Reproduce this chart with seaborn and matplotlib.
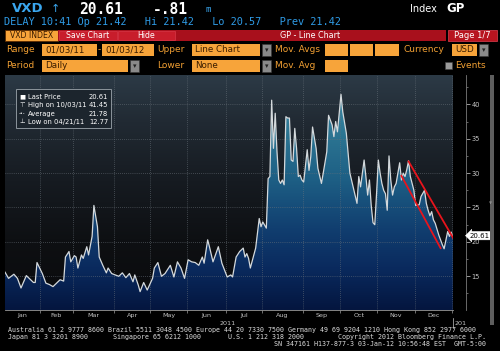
import numpy as np
import pandas as pd
import matplotlib
matplotlib.use("Agg")
import matplotlib.pyplot as plt
import matplotlib.transforms as mtransforms
import seaborn as sns
from matplotlib.colors import LinearSegmentedColormap
from matplotlib.patches import Polygon, Rectangle

# VXD index, daily (trading days only)
dates = [
    "2011-01-03", "2011-01-05", "2011-01-10", "2011-01-12", "2011-01-14", "2011-01-20", "2011-01-26",
    "2011-01-27", "2011-01-28", "2011-02-02", "2011-02-04", "2011-02-08", "2011-02-10", "2011-02-14",
    "2011-02-16", "2011-02-18", "2011-02-22", "2011-02-24", "2011-02-25", "2011-03-01", "2011-03-02",
    "2011-03-03", "2011-03-07", "2011-03-08", "2011-03-10", "2011-03-11", "2011-03-15", "2011-03-16",
    "2011-03-18", "2011-03-21", "2011-03-23", "2011-03-25", "2011-03-28", "2011-03-30", "2011-04-01",
    "2011-04-05", "2011-04-07", "2011-04-11", "2011-04-13", "2011-04-15", "2011-04-18", "2011-04-20",
    "2011-04-21", "2011-04-26", "2011-04-28", "2011-05-03", "2011-05-04", "2011-05-06", "2011-05-10",
    "2011-05-12", "2011-05-17", "2011-05-19", "2011-05-23", "2011-05-25", "2011-05-27", "2011-06-01",
    "2011-06-03", "2011-06-07", "2011-06-09", "2011-06-13", "2011-06-14", "2011-06-16", "2011-06-17",
    "2011-06-21", "2011-06-24", "2011-06-28", "2011-07-01", "2011-07-06", "2011-07-07", "2011-07-11",
    "2011-07-13", "2011-07-15", "2011-07-18", "2011-07-19", "2011-07-20", "2011-07-21", "2011-07-26",
    "2011-07-28", "2011-07-29", "2011-08-01", "2011-08-03", "2011-08-04", "2011-08-05", "2011-08-08",
    "2011-08-09", "2011-08-10", "2011-08-11", "2011-08-12", "2011-08-15", "2011-08-16", "2011-08-17",
    "2011-08-18", "2011-08-19", "2011-08-22", "2011-08-23", "2011-08-24", "2011-08-25", "2011-08-26",
    "2011-08-29", "2011-08-30", "2011-08-31", "2011-09-01", "2011-09-06", "2011-09-07", "2011-09-08",
    "2011-09-09", "2011-09-13", "2011-09-14", "2011-09-16", "2011-09-19", "2011-09-21", "2011-09-22",
    "2011-09-26", "2011-09-27", "2011-09-28", "2011-09-29", "2011-10-03", "2011-10-04", "2011-10-06",
    "2011-10-10", "2011-10-12", "2011-10-14", "2011-10-17", "2011-10-18", "2011-10-19", "2011-10-20",
    "2011-10-21", "2011-10-24", "2011-10-25", "2011-10-26", "2011-10-27", "2011-10-28", "2011-10-31",
    "2011-11-01", "2011-11-02", "2011-11-03", "2011-11-04", "2011-11-07", "2011-11-08", "2011-11-09",
    "2011-11-10", "2011-11-11", "2011-11-14", "2011-11-15", "2011-11-17", "2011-11-18", "2011-11-21",
    "2011-11-22", "2011-11-23", "2011-11-25", "2011-11-28", "2011-11-30", "2011-12-01", "2011-12-05",
    "2011-12-06", "2011-12-08", "2011-12-09", "2011-12-12", "2011-12-13", "2011-12-14", "2011-12-15",
    "2011-12-16", "2011-12-20", "2011-12-22", "2011-12-23", "2011-12-28", "2011-12-29", "2011-12-30",
    "2012-01-03",
]
values = [
    15.6, 14.7, 15.3, 14.7, 13.3, 15.1, 14.1,
    14.1, 17.0, 15.4, 14.0, 13.8, 13.5, 14.0,
    14.5, 14.3, 17.8, 18.6, 17.1, 18.0, 17.8,
    16.2, 18.1, 17.6, 19.3, 18.1, 20.8, 25.3,
    22.2, 17.8, 16.6, 15.5, 16.2, 15.4, 15.2,
    15.0, 15.5, 14.8, 15.4, 14.2, 15.2, 13.7,
    12.77, 14.1, 13.0, 14.7, 16.2, 17.0, 15.0,
    15.4, 16.6, 14.9, 17.1, 16.2, 14.7, 17.4,
    17.1, 17.0, 16.6, 17.8, 16.9, 20.3, 19.3,
    17.1, 19.3, 16.9, 14.9, 15.2, 14.9, 17.8,
    18.6, 19.1, 17.8, 18.3, 17.6, 16.2, 19.1,
    23.4, 22.2, 22.9, 22.0, 29.2, 29.5, 40.6,
    33.6, 38.7, 33.1, 29.0, 28.5, 29.0, 28.3,
    38.2, 38.0, 38.0, 31.9, 31.7, 36.5, 33.6,
    29.5, 29.7, 29.0, 28.7, 33.4, 30.4, 32.4,
    36.7, 33.6, 30.7, 28.5, 30.0, 33.1, 38.4,
    37.0, 35.3, 37.5, 36.0, 41.45, 38.9, 35.8,
    30.0, 27.8, 25.6, 29.5, 28.0, 30.0, 31.9,
    29.5, 26.8, 29.0, 25.3, 22.8, 22.5, 27.0,
    31.9, 30.0, 28.5, 27.5, 27.0, 24.6, 32.5,
    29.0, 26.8, 28.0, 28.5, 31.5, 29.0, 30.0,
    29.5, 30.5, 31.8, 29.5, 27.5, 25.3, 25.4,
    26.6, 27.5, 25.6, 24.6, 23.8, 24.4, 23.2,
    22.7, 21.0, 19.6, 19.0, 21.5, 20.8, 21.42,
    20.61,
]
holidays = ["2011-01-17", "2011-02-21", "2011-04-22", "2011-05-30", "2011-07-04",
            "2011-09-05", "2011-11-24", "2011-12-26", "2012-01-02"]

# hand-drawn trend channel
upper_trend_dates = ["2011-11-25", "2012-01-03"]
upper_trend_values = [31.7, 20.6]
lower_trend_dates = ["2011-11-18", "2011-12-21"]
lower_trend_values = [29.6, 19.1]

month_names = ["Jan", "Feb", "Mar", "Apr", "May", "Jun", "Jul", "Aug", "Sep", "Oct", "Nov", "Dec"]
y_ticks = [15, 20, 25, 30, 35, 40]
last_price = 20.61

legend_icons = ["■", "⊤", "-•-", "⊥"]
legend_labels = ["Last Price", "High on 10/03/11", "Average", "Low on 04/21/11"]
legend_values = ["20.61", "41.45", "21.78", "12.77"]

# sessions -> position on the axis (Bloomberg plots trading days evenly)
sessions = pd.bdate_range("2011-01-03", "2012-01-03", freq="C", holidays=holidays)
df = pd.DataFrame({"date": pd.to_datetime(dates), "value": values})
df["session"] = sessions.get_indexer(df["date"])
up = pd.DataFrame({"session": sessions.get_indexer(pd.to_datetime(upper_trend_dates)), "value": upper_trend_values})
lo = pd.DataFrame({"session": sessions.get_indexer(pd.to_datetime(lower_trend_dates)), "value": lower_trend_values})

month_start = [i for i in range(len(sessions)) if i == 0 or sessions[i].month != sessions[i - 1].month]
bounds = [i - 0.5 for i in month_start[1:]]
centers = [(a + b) / 2 for a, b in zip([0] + bounds[:-1], bounds)]

W, H = 500, 351
fig = plt.figure(figsize=(W / 100, H / 100), dpi=100, facecolor="black")

def fx(x):
    return x / W

def fy(y):
    return 1 - y / H

def rect(x0, y0, x1, y1, fc, ec="none", lw=0):
    fig.patches.append(Rectangle((fx(x0), fy(y1)), (x1 - x0) / W, (y1 - y0) / H,
                                 transform=fig.transFigure, facecolor=fc, edgecolor=ec, lw=lw))

def txt(x, y, s, **kw):
    kw.setdefault("va", "center")
    fig.text(fx(x), fy(y), s, **kw)

# ---------- header ----------
blue = "#2f9be6"
orange = "#f7a43a"
otext = "#f2a033"
dark = "#3a1c00"
txt(12, 9, "VXD", color="#3aa6ee", fontsize=9.5, fontweight="bold")
txt(51, 9, "↑", color="#3aa6ee", fontsize=8)
txt(79, 9, "20.61", color="white", fontsize=10.5, fontweight="bold", family="DejaVu Sans Mono")
txt(153, 9, "-.81", color="white", fontsize=10.5, fontweight="bold", family="DejaVu Sans Mono")
txt(206, 10, "m", color="#3aa6ee", fontsize=6.5, family="DejaVu Sans Mono")
txt(410, 9, "Index", color="white", fontsize=7)
txt(446, 9, "GP", color="white", fontsize=8.5, fontweight="bold")
txt(4, 22, "DELAY 10:41 Op 21.42   Hi 21.42   Lo 20.57   Prev 21.42",
    color=blue, fontsize=7.4, family="DejaVu Sans Mono")

rect(5, 30, 58, 41, orange, ec="#5a2a00", lw=0.6)
txt(31.5, 35.5, "VXD INDEX", color=dark, fontsize=5.6, ha="center")
rect(58, 30, 446, 41, "#a8101c")
rect(59, 31, 117, 40, "#c81d2b", ec="#e04050", lw=0.4)
rect(118, 31, 175, 40, "#c81d2b", ec="#e04050", lw=0.4)
txt(88, 35.5, "Save Chart", color="white", fontsize=5.6, ha="center")
txt(146, 35.5, "Hide", color="white", fontsize=5.6, ha="center")
txt(310, 35.5, "GP - Line Chart", color="white", fontsize=5.8, ha="center")
rect(448, 30, 497, 41, "#b8141f", ec="#e04050", lw=0.5)
txt(472.5, 35.5, "Page 1/7", color="white", fontsize=6, ha="center")

def field(x0, x1, y0, y1, s=""):
    rect(x0, y0, x1, y1, orange)
    if s:
        txt(x0 + 3, (y0 + y1) / 2, s, color=dark, fontsize=6.3)

def drop(x0, y0, y1):
    rect(x0, y0, x0 + 9, y1, "#8a8a8a", ec="#3a3a3a", lw=0.4)
    txt(x0 + 4.5, (y0 + y1) / 2, "▾", color="#222222", fontsize=5, ha="center")

r4a, r4b, r5a, r5b = 44, 56, 60, 72
txt(6, 50, "Range", color=otext, fontsize=6.5)
field(42, 97, r4a, r4b, "01/03/11")
txt(98, 50, "-", color=otext, fontsize=6.5)
field(102, 154, r4a, r4b, "01/03/12")
txt(157, 50, "Upper", color=otext, fontsize=6.5)
field(192, 260, r4a, r4b, "Line Chart")
drop(262, r4a, r4b)
txt(275, 50, "Mov. Avgs", color=otext, fontsize=6.5)
field(325, 348, r4a, r4b)
field(350, 373, r4a, r4b)
field(375, 399, r4a, r4b)
txt(403, 50, "Currency", color=otext, fontsize=6.5)
field(452, 477, r4a, r4b, "USD")
drop(479, r4a, r4b)

txt(6, 66, "Period", color=otext, fontsize=6.5)
field(42, 128, r5a, r5b, "Daily")
drop(130, r5a, r5b)
txt(157, 66, "Lower", color=otext, fontsize=6.5)
field(192, 260, r5a, r5b, "None")
drop(262, r5a, r5b)
txt(275, 66, "Mov. Avg", color=otext, fontsize=6.5)
field(325, 348, r5a, r5b)
rect(445, 62, 452, 69, "#9a9a9a", ec="#444444", lw=0.4)
txt(455, 66, "Events", color=otext, fontsize=6.5)

# ---------- chart ----------
ax = fig.add_axes([fx(5), fy(310), (453 - 5) / W, (310 - 75) / H])
ylo, yhi = 10.1, 44.26
xlo, xhi = 0, 252

bg_cmap = LinearSegmentedColormap.from_list(
    "bg", [(0, "#0a0a0c"), (0.3, "#0e1013"), (0.55, "#161b21"), (0.8, "#212a33"), (1, "#2c3a46")])
fill_cmap = LinearSegmentedColormap.from_list(
    "fill", [(0, "#04163f"), (0.18, "#0a2a5e"), (0.35, "#113f70"), (0.55, "#1d5e84"),
             (0.75, "#2c7592"), (1, "#4293b0")])
grad = np.linspace(0, 1, 256).reshape(-1, 1)
ax.imshow(grad, extent=[xlo, xhi, ylo, yhi], origin="lower", aspect="auto", cmap=bg_cmap, zorder=0)
im = ax.imshow(grad, extent=[xlo, xhi, ylo, yhi], origin="lower", aspect="auto", cmap=fill_cmap, zorder=1)
xs = df["session"].to_numpy()
ys = df["value"].to_numpy()
poly = Polygon(np.column_stack([np.r_[xs[0], xs, xs[-1]], np.r_[ylo, ys, ylo]]),
               closed=True, transform=ax.transData, facecolor="none", edgecolor="none")
ax.add_patch(poly)
im.set_clip_path(poly)

sns.lineplot(data=df, x="session", y="value", ax=ax, color="#d4d9dc", lw=0.9, zorder=4)
sns.lineplot(data=up, x="session", y="value", ax=ax, color="#e8141c", lw=1.3, zorder=5)
sns.lineplot(data=lo, x="session", y="value", ax=ax, color="#e8141c", lw=1.3, zorder=5)

ax.set_xlim(xlo, xhi)
ax.set_ylim(ylo, yhi)
ax.set_xlabel("")
ax.set_ylabel("")

grid_kw = dict(color="#6a737b", lw=0.5, ls=(0, (1, 2)), zorder=3)
for b in bounds:
    ax.axvline(b, **grid_kw)
for t in y_ticks:
    ax.axhline(t, **grid_kw)

ax.set_xticks(bounds)
ax.set_xticklabels([])
ax.set_xticks(centers, minor=True)
ax.set_xticklabels(month_names, minor=True)
ax.tick_params(axis="x", which="major", direction="out", length=2.5, color="#9a9a9a", width=0.5)
ax.tick_params(axis="x", which="minor", length=0, pad=2, labelsize=4.6, labelcolor="#c4c4c4")

ax.yaxis.tick_right()
ax.set_yticks(y_ticks)
ax.set_yticks(np.arange(12.5, 44, 5), minor=True)
ax.tick_params(axis="y", which="major", direction="out", length=3, width=0.6, color="#b0b0b0",
               pad=0.8, labelsize=4.8, labelcolor="#c4c4c4")
ax.tick_params(axis="y", which="minor", direction="out", length=1.5, width=0.5, color="#8a8a8a")
for s in ["top", "left"]:
    ax.spines[s].set_visible(False)
ax.spines["right"].set_position(("outward", 9.4))
ax.spines["right"].set_color("#7a7a7a")
ax.spines["right"].set_linewidth(0.6)
ax.spines["bottom"].set_color("#9a9a9a")
ax.spines["bottom"].set_linewidth(0.6)

trans = mtransforms.blended_transform_factory(ax.transAxes, ax.transData)
ax.text(1 + 17 / 448, last_price + 0.3, f"{last_price:.2f}", transform=trans, fontsize=5,
        color="black", va="center", ha="left",
        bbox=dict(boxstyle="larrow,pad=0.18", fc="white", ec="white", lw=0.3), zorder=6)

# legend panel
rect(16, 89, 111, 128, "#1c252d", ec="#8c959c", lw=0.7)
for i, (ic, lab, val) in enumerate(zip(legend_icons, legend_labels, legend_values)):
    yy = 97 + i * 8.3
    txt(22, yy, ic, color="white", fontsize=4.6 if ic != "-•-" else 3.6, ha="center")
    txt(28, yy, lab, color="white", fontsize=4.9)
    txt(108, yy, val, color="white", fontsize=4.9, ha="right")

# scroll bar and year labels
rect(489.5, 75, 493.5, 325, "#5e5e5e")
txt(491.5, 201, "«", color="#cfcfcf", fontsize=4, ha="center", rotation=90)
txt(228, 323.5, "2011", color="#c4c4c4", fontsize=4.6, ha="center")
fig.lines.append(plt.Line2D([fx(452.5), fx(452.5)], [fy(318), fy(328)], transform=fig.transFigure,
                            color="#c4c4c4", lw=0.5))
txt(455, 323.5, "201", color="#c4c4c4", fontsize=4.6)

# footer
mono = dict(color="#dcdcdc", fontsize=4.8, family="DejaVu Sans Mono")
txt(8, 330, "Australia 61 2 9777 8600 Brazil 5511 3048 4500 Europe 44 20 7330 7500 "
            "Germany 49 69 9204 1210 Hong Kong 852 2977 6000", **mono)
txt(8, 336.8, "Japan 81 3 3201 8900", **mono)
txt(113, 336.8, "Singapore 65 6212 1000", **mono)
txt(228, 336.8, "U.S. 1 212 318 2000", **mono)
txt(486, 336.8, "Copyright 2012 Bloomberg Finance L.P.", ha="right", **mono)
txt(486, 343.6, "SN 347161 H137-877-3 03-Jan-12 10:56:48 EST  GMT-5:00", ha="right", **mono)

fig.savefig("out.png", dpi=100, facecolor="black")
